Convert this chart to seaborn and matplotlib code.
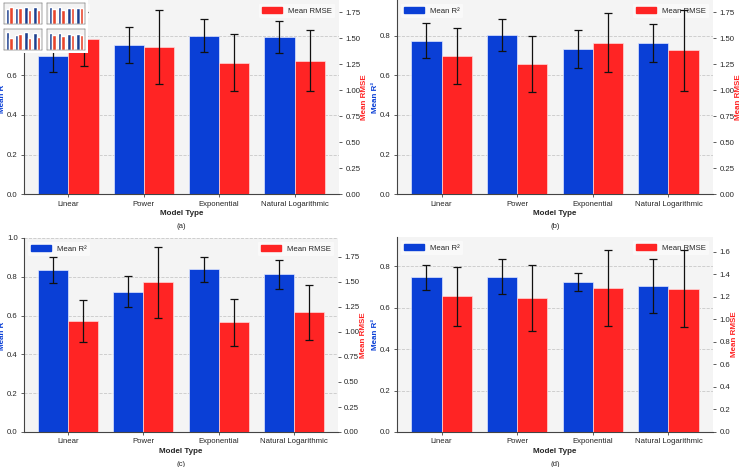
import matplotlib.pyplot as plt
from matplotlib.patches import Patch
import numpy as np
import pandas as pd
import seaborn as sns

models = ["Linear", "Power", "Exponential", "Natural Logarithmic"]
captions = ["(a)", "(b)", "(c)", "(d)"]

# mean R2 and its std per panel
r2_a = [0.700, 0.753, 0.800, 0.792]
r2_std_a = [0.085, 0.091, 0.082, 0.080]
r2_b = [0.775, 0.802, 0.733, 0.765]
r2_std_b = [0.089, 0.081, 0.096, 0.096]
r2_c = [0.834, 0.723, 0.839, 0.813]
r2_std_c = [0.068, 0.080, 0.064, 0.076]
r2_d = [0.745, 0.749, 0.724, 0.705]
r2_std_d = [0.061, 0.085, 0.043, 0.131]

# mean RMSE and its std per panel
rmse_a = [1.492, 1.415, 1.268, 1.287]
rmse_std_a = [0.260, 0.355, 0.273, 0.297]
rmse_b = [1.329, 1.256, 1.458, 1.384]
rmse_std_b = [0.270, 0.270, 0.283, 0.390]
rmse_c = [1.108, 1.495, 1.098, 1.196]
rmse_std_c = [0.210, 0.350, 0.235, 0.275]
rmse_d = [1.205, 1.190, 1.276, 1.273]
rmse_std_d = [0.262, 0.290, 0.340, 0.340]

# axis upper limits
r2_top = [0.98, 0.98, 1.0, 0.94]
rmse_top = [1.87, 1.87, 1.94, 1.73]

blue = "#0a3fd6"
red = "#ff2424"
hue_order = ["Mean R²", "Mean RMSE"]
pal = {"Mean R²": blue, "Mean RMSE": red}

sns.set_theme(style="whitegrid")
plt.rcParams["font.family"] = ["Liberation Sans", "DejaVu Sans"]
plt.rcParams["font.size"] = 5.6
plt.rcParams["axes.facecolor"] = "#f4f4f4"

fig = plt.figure(figsize=(7.41, 4.67), dpi=100)
W, H = 741.0, 467.0
boxes = [(24, 339, 0, 194.3), (397, 713, 0, 194.3),
         (24, 338, 238, 432), (397, 713, 237, 432)]

all_r2 = [(r2_a, r2_std_a), (r2_b, r2_std_b), (r2_c, r2_std_c), (r2_d, r2_std_d)]
all_rmse = [(rmse_a, rmse_std_a), (rmse_b, rmse_std_b), (rmse_c, rmse_std_c), (rmse_d, rmse_std_d)]


def dodged_bars(ax, values, metric, edge):
    # both hue levels go in so seaborn dodges; the empty level is dropped after
    other = [m for m in hue_order if m != metric][0]
    df = pd.DataFrame({"model": models * 2,
                       "value": list(values) + [0.0] * len(models),
                       "metric": [metric] * len(models) + [other] * len(models)})
    sns.barplot(data=df, x="model", y="value", hue="metric", hue_order=hue_order,
                palette=pal, saturation=1, ax=ax, legend=False,
                edgecolor=edge, linewidth=0.5)
    for p in list(ax.patches):
        if p.get_height() == 0:
            p.remove()
    return sorted(p.get_x() + p.get_width() / 2 for p in ax.patches)


for i in range(4):
    x0, x1, y0, y1 = boxes[i]
    ax1 = fig.add_axes([x0 / W, 1 - y1 / H, (x1 - x0) / W, (y1 - y0) / H])
    r2, r2_std = all_r2[i]
    rmse, rmse_std = all_rmse[i]

    xs = dodged_bars(ax1, r2, "Mean R²", "#dfe6ff")
    ax1.errorbar(xs, r2, yerr=r2_std, fmt="none", ecolor="#111111",
                 elinewidth=0.9, capsize=2.6, capthick=0.9, zorder=6)
    ax1.set_ylim(0, r2_top[i])
    ax1.set_xlim(-0.59, 3.59)

    ax2 = ax1.twinx()
    xs = dodged_bars(ax2, rmse, "Mean RMSE", "#ffd8d8")
    ax2.errorbar(xs, rmse, yerr=rmse_std, fmt="none", ecolor="#111111",
                 elinewidth=0.9, capsize=2.6, capthick=0.9, zorder=6)
    ax2.set_ylim(0, rmse_top[i])
    ax2.set_xlim(-0.59, 3.59)
    ax2.grid(False)

    ax1.grid(axis="y", color="#c8c8c8", linestyle="--", linewidth=0.6)
    ax1.grid(axis="x", visible=False)
    for s in ["top", "right"]:
        ax1.spines[s].set_visible(False)
    for s in ["top", "right", "left", "bottom"]:
        ax2.spines[s].set_visible(False)
    ax1.spines["left"].set_color("#444444")
    ax1.spines["bottom"].set_color("#444444")
    ax1.spines["left"].set_linewidth(0.8)
    ax1.spines["bottom"].set_linewidth(0.8)

    ax1.tick_params(axis="both", length=2.5, width=0.6, color="#444444", pad=2,
                    left=True, bottom=True, labelsize=5.6)
    ax2.tick_params(axis="y", length=2.5, width=0.6, color="#444444", pad=2,
                    right=True, labelsize=5.6)

    ax1.set_xlabel("Model Type", fontweight="bold", fontsize=5.8, labelpad=2)
    ax1.set_ylabel("Mean R²", color=blue, fontweight="bold", fontsize=5.8, labelpad=0.5)
    ax2.set_ylabel("Mean RMSE", color=red, fontweight="bold", fontsize=5.8, labelpad=0.5)

    leg_kw = dict(frameon=True, facecolor="white", framealpha=0.5, edgecolor="none",
                  fontsize=5.6, handlelength=2.6, handleheight=0.8, borderpad=0.4)
    ax1.legend(handles=[Patch(color=blue, label="Mean R²")], loc="upper left", **leg_kw)
    ax2.legend(handles=[Patch(color=red, label="Mean RMSE")], loc="upper right", **leg_kw)

    fig.text((x0 + x1) / 2 / W, 1 - (y1 + 32) / H, captions[i], ha="center",
             va="center", fontsize=5.6)

# small thumbnail of the figure pasted over the corner of panel (a)
thumb = fig.add_axes([0, 1 - 53 / H, 88 / W, 53 / H])
thumb.set_facecolor("white")
thumb.set_xticks([])
thumb.set_yticks([])
for s in thumb.spines.values():
    s.set_visible(False)
mini_boxes = [(4, 42, 3, 24), (47, 85, 3, 24), (4, 42, 29, 50), (47, 85, 29, 50)]
for i in range(4):
    x0, x1, y0, y1 = mini_boxes[i]
    m1 = fig.add_axes([x0 / W, 1 - y1 / H, (x1 - x0) / W, (y1 - y0) / H])
    m1.set_facecolor("#f4f4f4")
    pos = np.arange(len(models))
    m1.bar(pos - 0.2, all_r2[i][0], width=0.4, color="#1c3f8f")
    m1.set_ylim(0, r2_top[i])
    m2 = m1.twinx()
    m2.bar(pos + 0.2, all_rmse[i][0], width=0.4, color="#e8452c")
    m2.set_ylim(0, rmse_top[i])
    for m in (m1, m2):
        m.set_xticks([])
        m.set_yticks([])
        m.grid(False)
        for s in m.spines.values():
            s.set_linewidth(0.3)
            s.set_color("#888888")

fig.savefig("out.png", dpi=100)
